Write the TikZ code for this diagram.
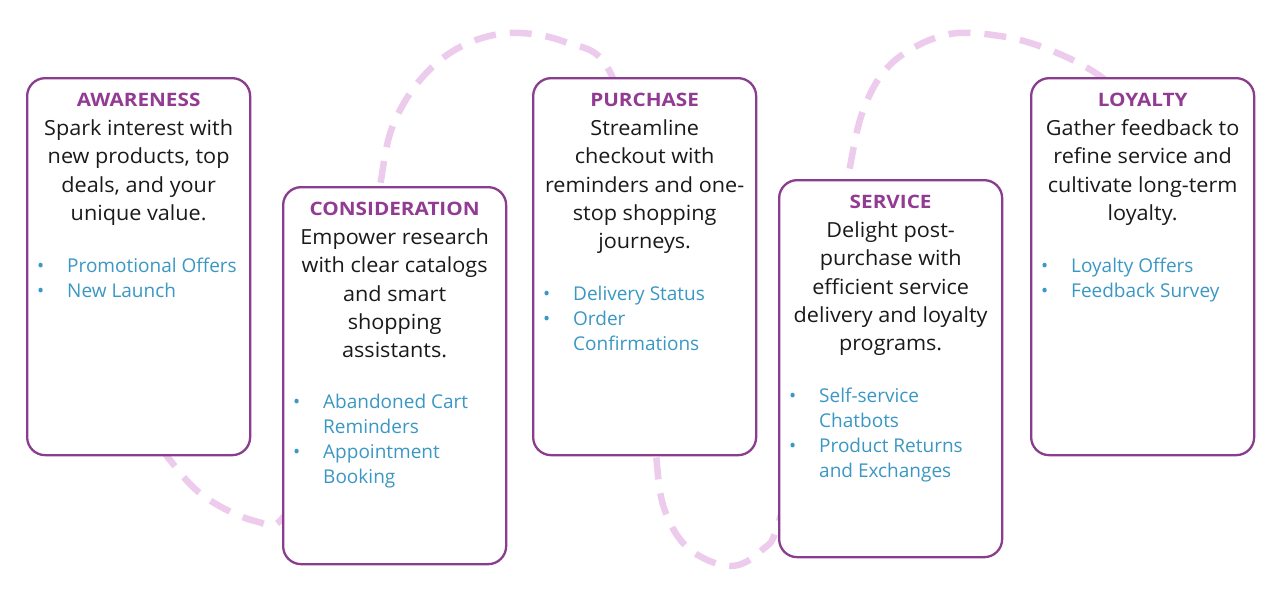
\documentclass[tikz,border=0pt]{standalone}
\usepackage{fontspec}
\setmainfont{Open Sans}
\newfontfamily\ttlfont[FakeStretch=1.12]{Open Sans}
\newfontfamily\bodyfont[FakeStretch=1.04]{Open Sans}
\usetikzlibrary{calc}
\definecolor{boxc}{HTML}{8A3C8E}
\definecolor{titlec}{HTML}{923B93}
\definecolor{bulletc}{HTML}{3B97C3}
\definecolor{dashc}{HTML}{EDCBEC}
\definecolor{bodyc}{HTML}{1A1A1A}
\tikzset{
  stage/.style={draw=boxc, line width=2.3pt, fill=white, rounded corners=18pt,
    minimum width=223pt, minimum height=377pt, inner sep=0pt},
  ttl/.style={font=\ttlfont\fontsize{18.5}{20}\selectfont\bfseries, text=titlec, inner sep=0pt},
  bodytxt/.style={font=\bodyfont\fontsize{20.8}{28.3}\selectfont, text=bodyc, inner sep=0pt},
  blist/.style={font=\fontsize{19}{25}\selectfont, text=bulletc, inner sep=0pt},
  wave/.style={draw=dashc, line width=6.5pt, dash pattern=on 22pt off 14pt}
}
\newcommand{\mkstage}[7]{%
  \node[stage, anchor=north west] (#1) at (#2,#3) {};
  \node[ttl, anchor=base] (#1-t) at ($(#1.north)+(0,29.5)$) {#4};
  \node[bodytxt, anchor=base] (#1-b) at ($(#1.north)+(0,58.5)$)
    {\begin{tabular}[t]{@{}c@{}}#5\end{tabular}};
  \node[blist, anchor=base west] (#1-l) at ($(#1.north west)+(11,#6)$)
    {\begin{tabular}[t]{@{}p{30pt}@{}l@{}}#7\end{tabular}};
}
\begin{document}
\begin{tikzpicture}[x=1pt, y=-1pt]
\useasboundingbox (0,0) rectangle (1268,592);
\draw[wave] plot[smooth, tension=0.6] coordinates {
  (120,390) (170,460) (205,497) (255,521) (285,515)
  (330,420) (370,250) (380,186) (392,128) (420,80) (460,47) (510,33) (565,42) (610,72)
  (645,200) (652,400) (656,455) (664,508) (688,548) (730,566) (762,550) (780,518)
  (820,360) (842,220) (849,172) (864,108) (893,62) (945,35) (1000,36) (1050,50) (1100,76) (1150,120)};
\mkstage{aw}{26}{77}{AWARENESS}
  {Spark interest with\\new products, top\\deals, and your\\unique value.}
  {195}{\textbullet & Promotional Offers\\ \textbullet & New Launch}
\mkstage{co}{282}{186}{CONSIDERATION}
  {Empower research\\with clear catalogs\\and smart\\shopping\\assistants.}
  {222.3}{\textbullet & Abandoned Cart\\ & Reminders\\ \textbullet & Appointment\\ & Booking}
\mkstage{pu}{532}{77}{PURCHASE}
  {Streamline\\checkout with\\reminders and one-\\stop shopping\\journeys.}
  {223.3}{\textbullet & Delivery Status\\ \textbullet & Order\\ & Confirmations}
\mkstage{se}{778}{179}{SERVICE}
  {Delight post-\\purchase with\\efficient service\\delivery and loyalty\\programs.}
  {223.3}{\textbullet & Self-service\\ & Chatbots\\ \textbullet & Product Returns\\ & and Exchanges}
\mkstage{lo}{1030}{77}{LOYALTY}
  {Gather feedback to\\refine service and\\cultivate long-term\\loyalty.}
  {195}{\textbullet & Loyalty Offers\\ \textbullet & Feedback Survey}
\end{tikzpicture}
\end{document}
